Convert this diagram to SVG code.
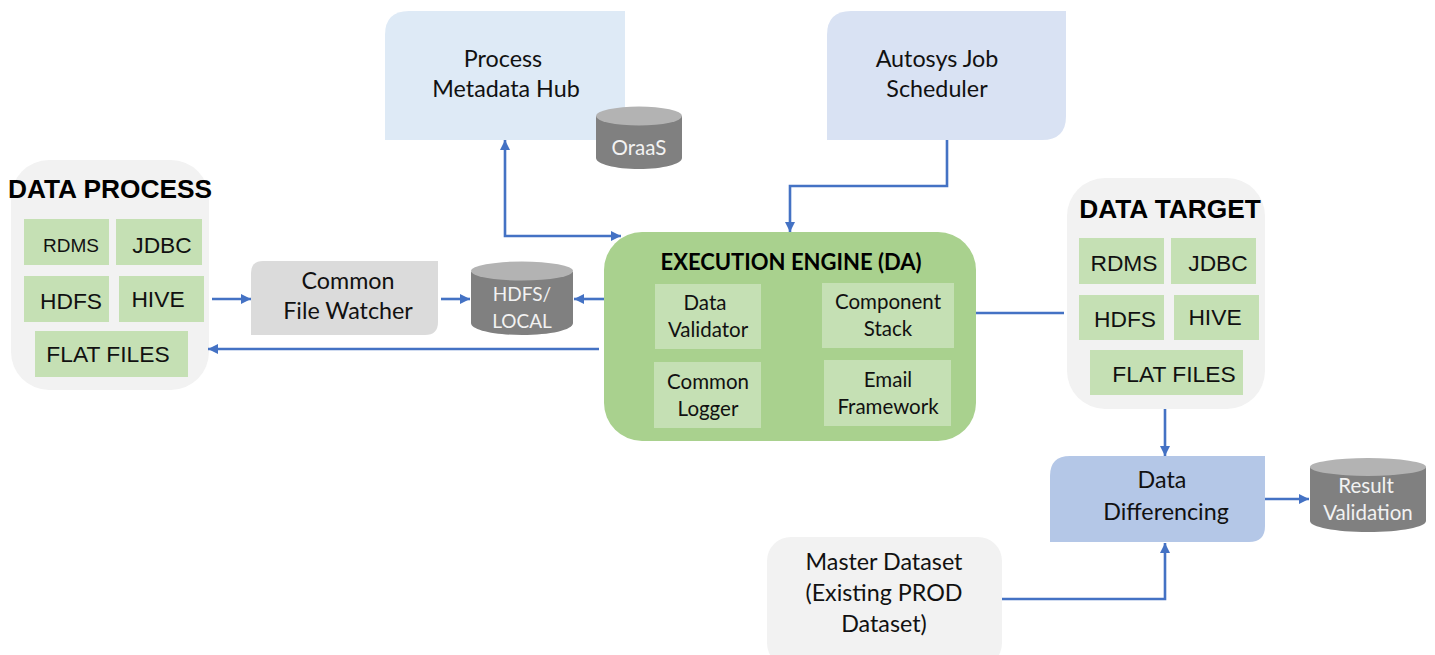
<svg xmlns="http://www.w3.org/2000/svg" width="1435" height="655" viewBox="0 0 1435 655">
<defs>
<marker id="a" markerWidth="11" markerHeight="11" refX="10" refY="5" orient="auto-start-reverse" markerUnits="userSpaceOnUse"><path d="M0 0L10 5L0 10Z" fill="#4472c4"/></marker>
</defs>
<style>
text{font-family:Lato,"Open Sans",sans-serif;text-anchor:middle;fill:#111}
.l{font-size:23.300px}
.m{font-size:20.500px}
.a{font-family:"Liberation Sans",Arial,sans-serif;font-size:22.800px}
.h{font-family:"Liberation Sans",Arial,sans-serif;font-weight:bold;font-size:26.300px;fill:#000}
.g{fill:#c5e0b4}
.p{fill:#f2f2f2}
.w{fill:#f2f2f2;font-size:20.500px}
.c{fill:none;stroke:#4472c4;stroke-width:2.600}
.t{fill:#b3b3b3}
.b{fill:#808080}
</style>
<rect width="1435" height="655" fill="#fff"/>
<g id="data-process">
<rect class="p" x="11" y="160" width="198" height="230" rx="38"/>
<text class="h" x="110" y="198">DATA PROCESS</text>
<rect class="g" x="24" y="219" width="85" height="46"/><text class="a" x="71" y="252" style="font-size:19px">RDMS</text>
<rect class="g" x="116" y="219" width="86" height="46"/><text class="a" x="162" y="253">JDBC</text>
<rect class="g" x="24" y="276" width="85" height="46"/><text class="a" x="71" y="309">HDFS</text>
<rect class="g" x="119" y="276" width="85" height="46"/><text class="a" x="158" y="307">HIVE</text>
<rect class="g" x="35" y="331" width="153" height="46"/><text class="a" x="108" y="362">FLAT FILES</text>
</g>
<g id="file-watcher">
<path d="M263 261H438V322Q438 335 425 335H251V273Q251 261 263 261Z" fill="#dbdbdb"/>
<text class="l" x="348" y="289">Common</text><text class="l" x="348" y="319">File Watcher</text>
</g>
<g id="hdfs-local">
<path class="b" d="M471 272V323C471 330 494 335 522 335S573 330 573 323V272Z"/>
<ellipse class="t" cx="522" cy="271" rx="51" ry="9.500"/>
<text class="w" x="522" y="301" style="font-size:19px">HDFS/</text><text class="w" x="522" y="328" style="font-size:19px">LOCAL</text>
</g>
<g id="metadata-hub">
<path d="M409 11H625V140H385V35Q385 11 409 11Z" fill="#deeaf6"/>
<text class="l" x="503" y="67">Process</text><text class="l" x="506" y="97">Metadata Hub</text>
</g>
<g id="oraas">
<path class="b" d="M596 116V158C596 164 615 169 639 169S682 164 682 158V116Z"/>
<ellipse class="t" cx="639" cy="116" rx="43" ry="9.500"/>
<text class="w" x="639" y="155">OraaS</text>
</g>
<g id="scheduler">
<path d="M851 11H1066V116Q1066 140 1042 140H827V35Q827 11 851 11Z" fill="#d9e2f3"/>
<text class="l" x="937" y="67">Autosys Job</text><text class="l" x="937" y="97">Scheduler</text>
</g>
<g id="execution-engine">
<rect x="604" y="232" width="372" height="209" rx="38" fill="#a9d18e"/>
<text x="791" y="270" style="font-weight:bold;font-size:22px;fill:#000">EXECUTION ENGINE (DA)</text>
<rect class="g" x="655" y="284" width="106" height="65"/><text class="m" x="705" y="310">Data</text><text class="m" x="708" y="337">Validator</text>
<rect class="g" x="822" y="283" width="132" height="65"/><text class="m" x="888" y="309">Component</text><text class="m" x="888" y="336">Stack</text>
<rect class="g" x="654" y="362" width="107" height="66"/><text class="m" x="708" y="389">Common</text><text class="m" x="708" y="416">Logger</text>
<rect class="g" x="824" y="360" width="127" height="66"/><text class="m" x="888" y="387">Email</text><text class="m" x="888" y="414">Framework</text>
</g>
<g id="data-target">
<rect class="p" x="1067" y="178" width="198" height="231" rx="38"/>
<text class="h" x="1170" y="218">DATA TARGET</text>
<rect class="g" x="1079" y="238" width="85" height="46"/><text class="a" x="1124" y="271">RDMS</text>
<rect class="g" x="1171" y="238" width="85" height="46"/><text class="a" x="1218" y="271">JDBC</text>
<rect class="g" x="1079" y="295" width="85" height="45"/><text class="a" x="1125" y="327">HDFS</text>
<rect class="g" x="1174" y="295" width="85" height="45"/><text class="a" x="1215" y="325">HIVE</text>
<rect class="g" x="1090" y="350" width="153" height="45"/><text class="a" x="1174" y="382">FLAT FILES</text>
</g>
<g id="data-differencing">
<path d="M1070 456H1265V526Q1265 542 1249 542H1050V476Q1050 456 1070 456Z" fill="#b4c7e7"/>
<text class="l" x="1162" y="488">Data</text><text class="l" x="1166" y="520">Differencing</text>
</g>
<g id="result-validation">
<path class="b" d="M1310 467V521C1310 527 1335 532 1368 532S1426 527 1426 521V467Z"/>
<ellipse class="t" cx="1368" cy="467" rx="58" ry="9"/>
<text class="w" x="1366" y="493">Result</text><text class="w" x="1368" y="520">Validation</text>
</g>
<g id="master-dataset">
<rect x="767" y="537" width="235" height="130" rx="24" fill="#f2f2f2"/>
<text class="l" x="884" y="570">Master Dataset</text><text class="l" x="884" y="601">(Existing PROD</text><text class="l" x="884" y="632">Dataset)</text>
</g>
<g id="connectors">
<path class="c" marker-end="url(#a)" d="M212 299H251"/>
<path class="c" marker-end="url(#a)" d="M441 299H470"/>
<path class="c" marker-end="url(#a)" d="M604 299H574"/>
<path class="c" marker-end="url(#a)" d="M599 349H208"/>
<path class="c" marker-start="url(#a)" marker-end="url(#a)" d="M505 140V236H621"/>
<path class="c" marker-end="url(#a)" d="M947 140V186H790V232"/>
<path class="c" d="M976 313H1064"/>
<path class="c" marker-end="url(#a)" d="M1165 409V456"/>
<path class="c" marker-end="url(#a)" d="M1265 499H1309"/>
<path class="c" marker-end="url(#a)" d="M1002 599H1165V543"/>
</g>
</svg>
